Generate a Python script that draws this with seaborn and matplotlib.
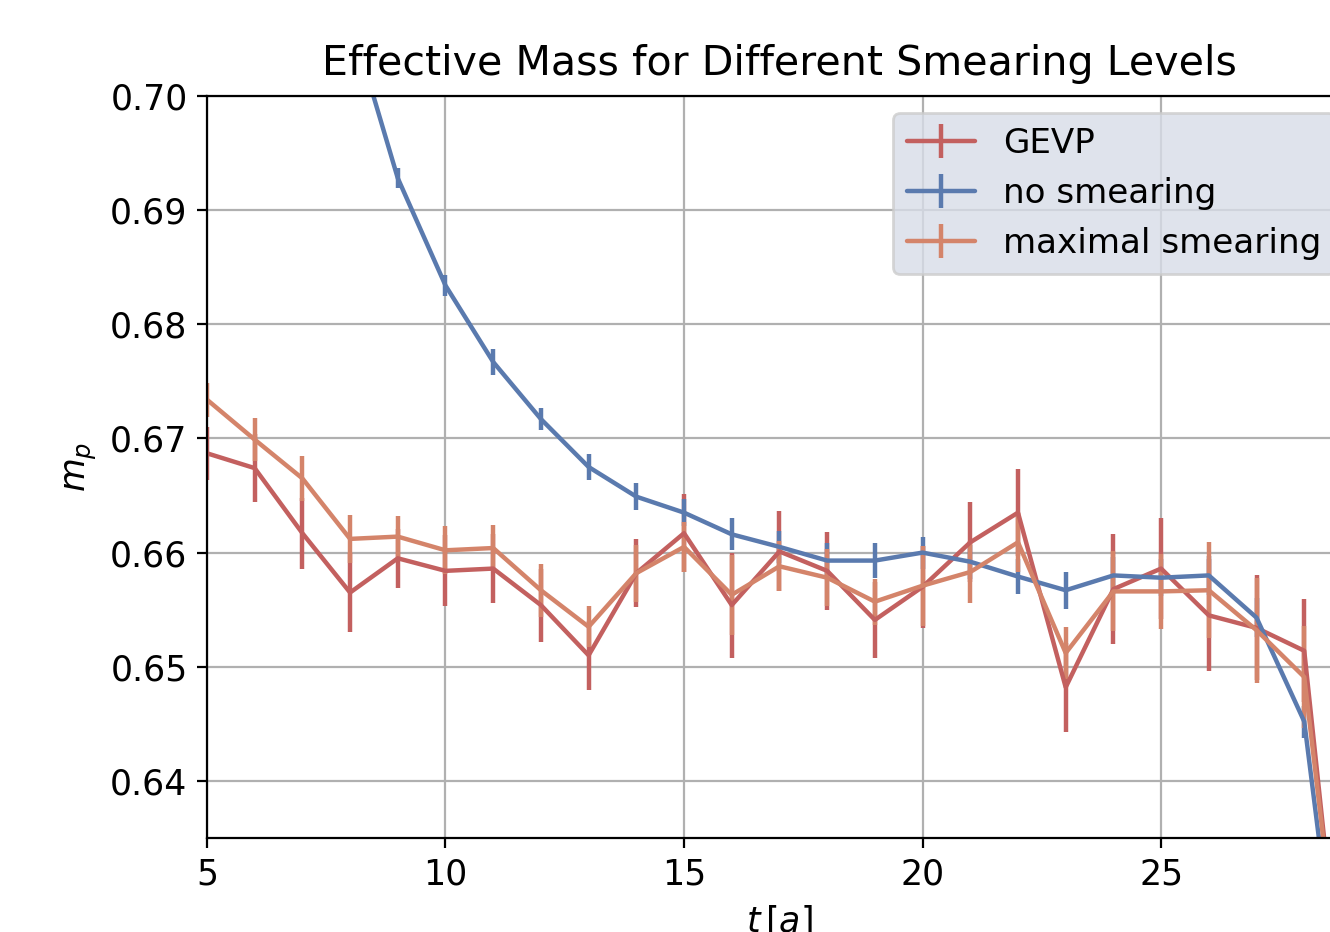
import numpy as np
import matplotlib
matplotlib.use("Agg")
import matplotlib.pyplot as plt
import seaborn as sns

# ─── Data ────────────────────────────────────────────────────────
t = np.arange(5, 30)

gevp = [0.6687, 0.6674, 0.6617, 0.6565, 0.6595, 0.6584, 0.6586, 0.6554, 0.6510,
        0.6582, 0.6617, 0.6554, 0.6601, 0.6584, 0.6541, 0.6570, 0.6609, 0.6635,
        0.6482, 0.6568, 0.6586, 0.6545, 0.6534, 0.6514, 0.6120]
gevp_err = [0.0023, 0.0030, 0.0031, 0.0035, 0.0026, 0.0031, 0.0030, 0.0032, 0.0030,
            0.0030, 0.0034, 0.0046, 0.0035, 0.0034, 0.0033, 0.0036, 0.0035, 0.0038,
            0.0039, 0.0048, 0.0044, 0.0049, 0.0046, 0.0045, 0.0050]

no_smear = [0.7750, 0.7460, 0.7240, 0.7069, 0.6928, 0.6834, 0.6767, 0.6717, 0.6675,
            0.6649, 0.6635, 0.6616, 0.6605, 0.6593, 0.6593, 0.6600, 0.6592, 0.6579,
            0.6567, 0.6580, 0.6578, 0.6580, 0.6543, 0.6452, 0.6120]
no_smear_err = [0.0006, 0.0006, 0.0007, 0.0008, 0.0009, 0.0009, 0.0011, 0.0010, 0.0011,
                0.0012, 0.0012, 0.0014, 0.0014, 0.0015, 0.0015, 0.0014, 0.0015, 0.0015,
                0.0016, 0.0016, 0.0016, 0.0017, 0.0017, 0.0014, 0.0020]

max_smear = [0.6734, 0.6699, 0.6665, 0.6612, 0.6614, 0.6602, 0.6604, 0.6567, 0.6535,
             0.6582, 0.6605, 0.6563, 0.6588, 0.6578, 0.6557, 0.6571, 0.6583, 0.6609,
             0.6512, 0.6566, 0.6566, 0.6567, 0.6532, 0.6491, 0.6136]
max_smear_err = [0.0015, 0.0019, 0.0020, 0.0021, 0.0018, 0.0021, 0.0020, 0.0023, 0.0018,
                 0.0025, 0.0022, 0.0035, 0.0022, 0.0025, 0.0020, 0.0035, 0.0027, 0.0026,
                 0.0023, 0.0035, 0.0033, 0.0042, 0.0046, 0.0045, 0.0050]

labels = ["GEVP", "no smearing", "maximal smearing"]

# ─── Theme ───────────────────────────────────────────────────────
sns.set_theme(style="whitegrid")
colors = ["#c3605f", "#5a7aae", "#d4846a"]   # softened seaborn "deep" red / blue / orange
plt.rcParams.update({
    "font.family": ["DejaVu Sans"],
    "text.color": "black",
    "axes.labelcolor": "black",
    "axes.edgecolor": "black",
    "axes.linewidth": 0.8,
    "grid.color": "#b0b0b0",
    "grid.linewidth": 0.8,
    "xtick.bottom": True,
    "ytick.left": True,
    "xtick.color": "black",
    "ytick.color": "black",
    "xtick.major.size": 3.5,
    "ytick.major.size": 3.5,
    "xtick.major.width": 0.8,
    "ytick.major.width": 0.8,
})

fig = plt.figure(figsize=(6.65, 4.66), dpi=200)
ax = fig.add_axes([0.1556, 0.1009, 0.8609, 0.7961])

series = [(gevp, gevp_err), (no_smear, no_smear_err), (max_smear, max_smear_err)]
for (vals, errs), lab, col in zip(series, labels, colors):
    ax.errorbar(t, vals, yerr=errs, color=col, lw=1.6,
                elinewidth=1.6, capsize=0, label=lab)

ax.set_xlim(5, 29)
ax.set_ylim(0.635, 0.70)
ax.set_yticks([0.64, 0.65, 0.66, 0.67, 0.68, 0.69, 0.70])
ax.set_xticks([5, 10, 15, 20, 25])
ax.tick_params(labelsize=12.5, pad=3.5)
ax.set_title("Effective Mass for Different Smearing Levels", fontsize=14.8, pad=7.5)
ax.set_xlabel(r"$t\,[a]$", fontsize=12.5)
ax.set_ylabel(r"$m_p$", fontsize=12.5)

leg = ax.legend(loc="upper right", fontsize=12.3, framealpha=0.8,
                facecolor="#d8dde8", edgecolor="#cccccc", fancybox=True)
for h in leg.legend_handles:
    for art in h.get_children():
        art.set_linewidth(2.2)

fig.savefig("out.png", dpi=200)
